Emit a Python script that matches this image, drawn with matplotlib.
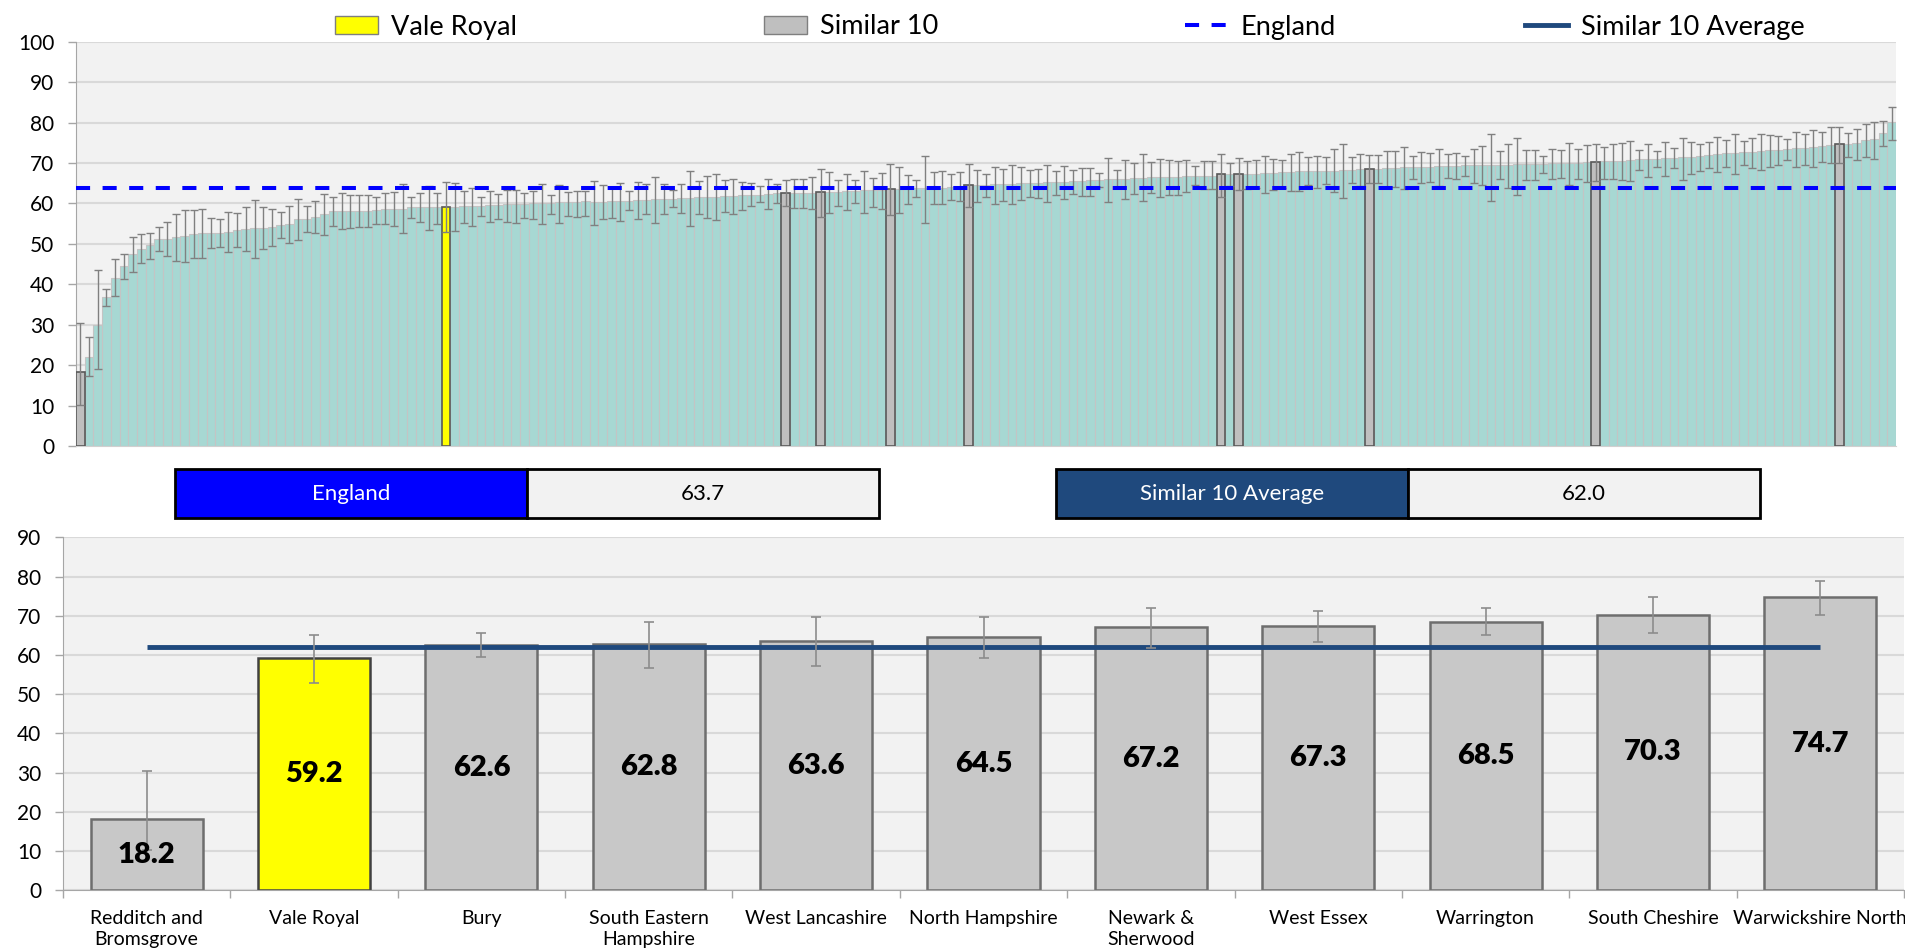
import matplotlib.pyplot as plt
from matplotlib.patches import Rectangle, Patch
from matplotlib.lines import Line2D
import numpy as np

plt.rcParams['font.family'] = ['Lato', 'DejaVu Sans']

# valori (tutte le aree, ordinate)
all_values = [
    18.2, 21.9, 29.9, 36.8, 41.6, 44.5, 47.4, 48.8, 49.6, 51.1,
    51.3, 51.6, 52.0, 52.5, 52.6, 52.6, 52.7, 53.0, 53.4, 53.6,
    53.9, 53.9, 54.1, 54.7, 54.8, 56.1, 56.2, 56.7, 57.4, 58.1,
    58.1, 58.1, 58.1, 58.1, 58.4, 58.5, 58.7, 58.7, 59.0, 59.0,
    59.0, 59.0, 59.2, 59.2, 59.3, 59.4, 59.4, 59.5, 59.6, 59.8,
    59.9, 59.9, 60.0, 60.1, 60.2, 60.3, 60.4, 60.4, 60.5, 60.3,
    60.4, 60.5, 60.6, 60.7, 60.8, 60.9, 61.0, 61.1, 61.2, 61.3,
    61.4, 61.5, 61.6, 61.7, 61.8, 61.9, 62.0, 62.1, 62.2, 62.3,
    62.5, 62.6, 62.6, 62.7, 62.7, 62.8, 62.9, 62.9, 63.0, 63.1,
    63.2, 63.3, 63.4, 63.6, 63.6, 63.7, 63.7, 63.8, 63.9, 63.9,
    64.0, 64.1, 64.5, 64.5, 64.6, 64.7, 64.8, 64.9, 65.0, 65.0,
    65.1, 65.2, 65.3, 65.4, 65.5, 65.6, 65.7, 65.8, 66.0, 66.0,
    66.1, 66.2, 66.4, 66.5, 66.5, 66.6, 66.6, 66.7, 66.8, 66.8,
    66.9, 67.2, 67.2, 67.3, 67.3, 67.4, 67.5, 67.6, 67.7, 67.8,
    67.9, 68.0, 68.0, 68.1, 68.1, 68.2, 68.3, 68.4, 68.5, 68.6,
    68.7, 68.8, 68.9, 69.0, 69.0, 69.1, 69.2, 69.3, 69.3, 69.4,
    69.4, 69.5, 69.5, 69.6, 69.6, 69.7, 69.7, 69.8, 69.8, 69.9,
    70.0, 70.0, 70.1, 70.2, 70.3, 70.4, 70.5, 70.6, 70.7, 70.9,
    71.0, 71.1, 71.2, 71.3, 71.4, 71.6, 71.7, 71.9, 72.2, 72.4,
    72.5, 72.6, 72.8, 73.0, 73.1, 73.3, 73.4, 73.6, 73.8, 74.0,
    74.2, 74.4, 74.7, 74.8, 74.9, 75.7, 76.0, 77.5, 80.2,
]
all_low = [
    10.2, 17.4, 19.1, 34.6, 37.1, 41.4, 43.1, 45.3, 46.3, 48.2,
    47.0, 45.8, 45.5, 46.6, 46.6, 48.9, 49.2, 48.0, 49.2, 48.2,
    46.6, 48.8, 49.5, 51.4, 50.2, 50.9, 53.0, 52.7, 52.3, 54.4,
    53.6, 54.0, 54.2, 54.2, 54.9, 54.8, 54.4, 52.8, 56.3, 55.3,
    53.4, 54.9, 52.9, 53.3, 55.1, 54.5, 57.0, 55.3, 56.1, 55.3,
    55.2, 56.4, 56.1, 54.8, 57.5, 55.1, 57.0, 56.7, 56.8, 54.6,
    56.1, 56.5, 55.6, 58.3, 56.2, 57.5, 55.1, 57.5, 59.0, 57.7,
    54.4, 57.5, 56.5, 55.9, 57.8, 57.4, 58.3, 59.3, 60.4, 58.7,
    60.0, 59.4, 58.9, 58.8, 58.5, 56.6, 57.6, 59.4, 58.4, 60.0,
    57.6, 59.2, 58.5, 57.2, 57.7, 59.9, 61.7, 55.2, 59.9, 59.9,
    60.8, 60.6, 59.1, 60.3, 61.7, 59.8, 60.5, 59.8, 60.8, 61.5,
    61.3, 60.4, 62.0, 61.0, 62.4, 61.8, 61.8, 64.0, 60.3, 63.7,
    61.2, 62.3, 60.7, 62.7, 61.7, 62.0, 62.2, 62.8, 64.5, 63.5,
    63.6, 61.7, 64.4, 63.2, 63.6, 63.7, 62.7, 63.3, 63.9, 63.1,
    63.1, 64.6, 63.8, 64.8, 62.8, 61.4, 65.0, 64.4, 65.1, 65.0,
    64.0, 64.0, 63.5, 66.0, 65.1, 65.4, 64.4, 66.2, 66.0, 66.7,
    65.1, 64.6, 60.6, 66.0, 63.7, 62.2, 65.8, 65.8, 67.5, 66.0,
    66.2, 64.5, 66.1, 65.4, 65.6, 66.1, 66.0, 65.8, 65.6, 68.3,
    66.6, 69.1, 66.9, 68.7, 65.8, 67.4, 68.1, 68.7, 67.8, 69.1,
    67.3, 69.4, 68.8, 68.2, 69.0, 69.6, 70.7, 68.9, 69.5, 69.1,
    70.3, 69.9, 70.1, 71.6, 70.7, 71.4, 71.1, 74.2, 75.8,
]
all_high = [
    30.3, 27.0, 43.6, 38.9, 46.2, 47.5, 51.7, 52.4, 52.8, 54.1,
    55.5, 57.5, 58.4, 58.4, 58.5, 56.4, 56.2, 57.9, 57.7, 59.0,
    60.9, 59.0, 58.5, 58.0, 59.3, 61.2, 59.3, 60.7, 62.4, 61.7,
    62.7, 62.2, 62.0, 62.0, 61.7, 62.5, 62.9, 64.7, 61.5, 62.5,
    64.3, 62.7, 65.2, 65.0, 63.1, 63.7, 61.5, 63.0, 62.3, 63.3,
    63.3, 62.7, 63.1, 64.8, 62.2, 64.6, 62.9, 63.1, 63.1, 65.6,
    64.5, 64.1, 65.1, 63.1, 65.3, 64.7, 66.6, 64.7, 63.3, 64.7,
    68.0, 65.5, 66.7, 67.4, 65.8, 66.1, 65.4, 65.1, 64.2, 66.0,
    64.8, 65.7, 66.1, 66.1, 66.5, 68.5, 67.7, 65.9, 67.3, 65.8,
    68.0, 66.2, 67.6, 69.7, 69.1, 67.1, 65.8, 71.8, 67.8, 68.0,
    67.4, 67.7, 69.8, 68.3, 67.4, 69.1, 68.6, 69.6, 68.9, 68.3,
    68.6, 69.4, 68.0, 69.3, 68.3, 68.8, 68.8, 67.6, 71.3, 68.3,
    70.7, 70.1, 72.1, 70.2, 71.1, 70.8, 70.6, 70.7, 69.2, 70.4,
    70.6, 72.1, 69.9, 71.2, 70.4, 70.8, 71.8, 71.1, 70.8, 72.3,
    72.6, 71.4, 71.8, 71.6, 73.4, 74.6, 71.6, 72.1, 71.9, 72.0,
    73.0, 73.0, 73.9, 71.7, 72.7, 72.5, 73.4, 72.1, 72.5, 71.8,
    73.5, 74.1, 77.2, 72.9, 74.8, 76.2, 73.2, 73.2, 71.7, 73.4,
    73.2, 74.9, 73.5, 74.4, 74.8, 74.0, 74.6, 75.0, 75.4, 73.1,
    74.8, 73.0, 75.3, 73.7, 76.3, 75.3, 74.8, 75.2, 76.5, 75.6,
    77.2, 75.4, 76.2, 77.2, 76.8, 76.6, 76.0, 77.7, 77.2, 78.2,
    77.7, 78.8, 78.9, 77.5, 78.4, 79.7, 80.2, 80.4, 83.9,
]

vale_royal_pos = 42
similar_pos = [0, 81, 85, 93, 102, 131, 133, 148, 174, 202]

england_value = 63.7
similar_avg = 62.0

# grafico in basso: Vale Royal e le 10 aree simili
names = ['Redditch and\nBromsgrove', 'Vale Royal', 'Bury', 'South Eastern\nHampshire',
         'West Lancashire', 'North Hampshire', 'Newark &\nSherwood', 'West Essex',
         'Warrington', 'South Cheshire', 'Warwickshire North']
values = [18.2, 59.2, 62.6, 62.8, 63.6, 64.5, 67.2, 67.3, 68.5, 70.3, 74.7]
low = [10.2, 52.9, 59.4, 56.6, 57.2, 59.1, 61.7, 63.2, 65.1, 65.6, 70.1]
high = [30.3, 65.2, 65.7, 68.5, 69.7, 69.8, 72.1, 71.2, 71.9, 74.8, 78.9]
highlight = 'Vale Royal'

# colori
teal = '#A7D8D3'
grigio = '#BFBFBF'
giallo = '#FFFF00'
blu = '#0000FF'
blu_scuro = '#1F497D'
sfondo = '#F2F2F2'

W, H = 1905, 950
fig = plt.figure(figsize=(W / 100, H / 100), dpi=100)


def box(l, t, r, b):
    return [l / W, 1 - b / H, (r - l) / W, (b - t) / H]


# ---- grafico in alto ----
ax1 = fig.add_axes(box(76, 41.7, 1896, 446))
vals = np.array(all_values)
x = np.arange(len(vals))
err = [vals - np.array(all_low), np.array(all_high) - vals]

ax1.bar(x, vals, width=1.0, color=teal, edgecolor='#C4C4C4', linewidth=0.8, zorder=2)
ax1.bar(x[similar_pos], vals[similar_pos], width=1.0, color=grigio, edgecolor='#595959',
        linewidth=1.2, zorder=3)
ax1.bar(x[vale_royal_pos], vals[vale_royal_pos], width=1.0, color=giallo, edgecolor='#595959',
        linewidth=1.2, zorder=3)
ax1.errorbar(x, vals, yerr=err, fmt='none', ecolor='#808080', elinewidth=1.0,
             capsize=2.6, capthick=1.0, zorder=4)
dash = (0, (3.5, 3.1))
ax1.axhline(england_value, color=blu, lw=2.9, ls=dash, zorder=5)

ax1.set_xlim(-0.5, len(vals) - 0.5)
ax1.set_ylim(0, 100)
ax1.set_yticks(range(0, 101, 10))
ax1.set_xticks([])
ax1.set_facecolor(sfondo)
ax1.set_axisbelow(True)
ax1.grid(axis='y', color='#D9D9D9', lw=1.5)
for s in ['top', 'right']:
    ax1.spines[s].set_visible(False)
ax1.spines['left'].set_color('#A6A6A6')
ax1.spines['bottom'].set_color('#D0D0D0')
ax1.tick_params(axis='y', length=5.5, width=1, color='#A6A6A6', labelsize=15, pad=10)

# legenda in alto
handles = [
    Patch(facecolor=giallo, edgecolor='#7F7F7F'),
    Patch(facecolor=grigio, edgecolor='#7F7F7F'),
    Line2D([], [], color=blu, lw=2.9, ls=dash),
    Line2D([], [], color=blu_scuro, lw=3.5),
]
labels = ['Vale Royal', 'Similar 10', 'England', 'Similar 10 Average']
starts = [335, 764, 1185, 1525]
for h, lab, xs in zip(handles, labels, starts):
    fig.legend(handles=[h], labels=[lab], loc='center left', bbox_to_anchor=(xs / W, 1 - 27 / H),
               frameon=False, fontsize=19.5, handlelength=1.6, handleheight=0.65,
               handletextpad=0.45, borderpad=0, borderaxespad=0)

# riquadri con i valori
for l, nome, val, col in [(175, 'England', england_value, blu),
                          (1056, 'Similar 10 Average', similar_avg, blu_scuro)]:
    t, b, w = 469.3, 517.7, 352
    fig.add_artist(Rectangle((l / W, 1 - b / H), w / W, (b - t) / H, transform=fig.transFigure,
                             facecolor=col, edgecolor='black', lw=2))
    fig.add_artist(Rectangle(((l + w) / W, 1 - b / H), w / W, (b - t) / H, transform=fig.transFigure,
                             facecolor=sfondo, edgecolor='black', lw=2))
    yc = 1 - (t + b) / 2 / H
    fig.text((l + w / 2) / W, yc, nome, color='white', fontsize=16, ha='center', va='center')
    fig.text((l + 1.5 * w) / W, yc, f'{val:.1f}', color='black', fontsize=16, ha='center', va='center')

# ---- grafico in basso ----
ax2 = fig.add_axes(box(63, 537.3, 1904, 890.3))
xb = np.arange(len(values))
colori = [giallo if n == highlight else '#C8C8C8' for n in names]
bordi = ['#404040' if n == highlight else '#6E6E6E' for n in names]
ax2.bar(xb, values, width=0.67, color=colori, edgecolor=bordi, linewidth=1.8, zorder=2)
ax2.hlines(similar_avg, xb[0], xb[-1], color=blu_scuro, lw=3.5, zorder=4)
ax2.errorbar(xb, values, yerr=[np.array(values) - np.array(low), np.array(high) - np.array(values)],
             fmt='none', ecolor='#8C8C8C', elinewidth=1.2, capsize=3.5, capthick=1.2, zorder=5)
for i, v in enumerate(values):
    ax2.text(xb[i], v / 2, f'{v:.1f}', ha='center', va='center', fontsize=21,
             fontweight='heavy', zorder=6)

ax2.set_xlim(-0.5, len(values) - 0.5)
ax2.set_ylim(0, 90)
ax2.set_yticks(range(0, 91, 10))
ax2.set_xticks(xb)
ax2.set_xticklabels(names, fontsize=14, linespacing=1.3)
ax2.set_xticks(np.arange(-0.5, len(values)), minor=True)
ax2.tick_params(axis='x', which='major', length=0, pad=14)
ax2.tick_params(axis='x', which='minor', length=5.5, width=1, color='#A6A6A6')
ax2.tick_params(axis='y', length=5.5, width=1, color='#A6A6A6', labelsize=15, pad=10)
ax2.set_facecolor(sfondo)
ax2.set_axisbelow(True)
ax2.grid(axis='y', color='#D9D9D9', lw=1.5)
for s in ['top', 'right']:
    ax2.spines[s].set_visible(False)
ax2.spines['left'].set_color('#A6A6A6')
ax2.spines['bottom'].set_color('#A6A6A6')

plt.savefig('out.png', dpi=100)
